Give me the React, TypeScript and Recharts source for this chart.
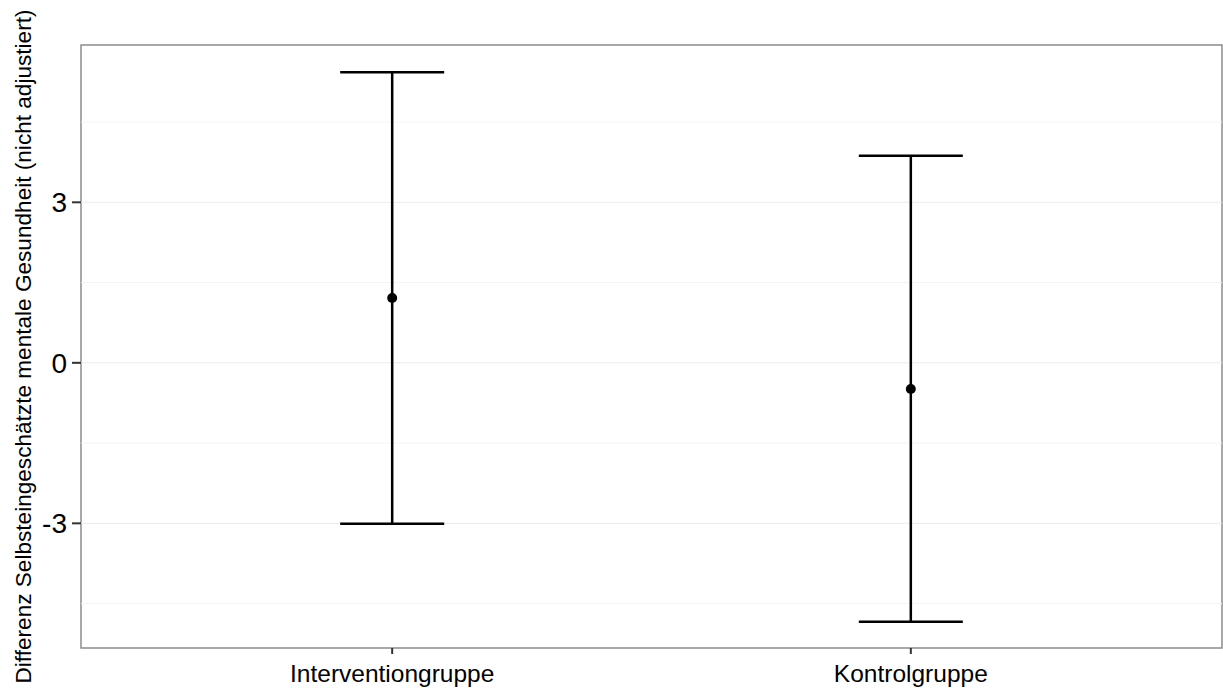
import {
  ComposedChart,
  ErrorBar,
  ReferenceArea,
  ReferenceLine,
  Scatter,
  XAxis,
  YAxis,
} from 'recharts'

const groups = ['Interventiongruppe', 'Kontrolgruppe']
const means = [1.21, -0.49]
const lower = [-3.01, -4.84]
const upper = [5.43, 3.87]

const yTicks = [-3, 0, 3]
const minorY = [-4.5, -1.5, 1.5, 4.5]
const xDomain: [number, number] = [0.4, 2.6]
const yDomain: [number, number] = [-5.33, 5.94]

const yTitle = 'Differenz Selbsteingeschätzte mentale Gesundheit (nicht adjustiert)'

const data = groups.map((name, i) => ({
  x: i + 1,
  y: means[i],
  err: [means[i] - lower[i], upper[i] - means[i]],
}))

const font = 'Arial, "Liberation Sans", sans-serif'

const Dot = (props: any) => (
  <circle cx={props.cx} cy={props.cy} fill="#000" r={5} />
)

export default function App() {
  return (
    <div style={{ position: 'absolute', left: 0, top: 0, background: '#fff' }}>
      <ComposedChart
        data={data}
        height={691}
        margin={{ top: 45, right: 1, bottom: 0, left: 0 }}
        width={1223}
      >
        {minorY.map((v) => (
          <ReferenceLine key={`m${v}`} stroke="#f4f4f4" strokeWidth={1} y={v} />
        ))}
        {yTicks.map((v) => (
          <ReferenceLine key={`M${v}`} stroke="#ebebeb" strokeWidth={1} y={v} />
        ))}
        <XAxis
          allowDataOverflow
          axisLine={false}
          dataKey="x"
          domain={xDomain}
          height={43}
          tick={{ fill: '#000', fontSize: 24.5, fontFamily: font }}
          tickFormatter={(v) => groups[v - 1] ?? ''}
          tickLine={{ stroke: '#333', strokeWidth: 2 }}
          tickMargin={11}
          tickSize={6}
          ticks={[1, 2]}
          type="number"
        />
        <YAxis
          allowDataOverflow
          axisLine={false}
          dataKey="y"
          domain={yDomain}
          label={{
            content: () => (
              <text
                dominantBaseline="central"
                fill="#000"
                fontFamily={font}
                fontSize={22.6}
                textAnchor="middle"
                transform="translate(23,346.5) rotate(-90)"
              >
                {yTitle}
              </text>
            ),
          }}
          tick={{ fill: '#000', fontSize: 28, fontFamily: font }}
          tickLine={{ stroke: '#333', strokeWidth: 2 }}
          tickMargin={5}
          tickSize={9}
          ticks={yTicks}
          type="number"
          width={81}
        />
        <ReferenceArea
          fill="none"
          stroke="#8c8c8c"
          strokeWidth={1.5}
          x1={xDomain[0]}
          x2={xDomain[1]}
          y1={yDomain[0]}
          y2={yDomain[1]}
        />
        <Scatter
          dataKey="y"
          isAnimationActive={false}
          shape={<Dot />}
        >
          <ErrorBar
            dataKey="err"
            direction="y"
            isAnimationActive={false}
            stroke="#000"
            strokeWidth={2.5}
            width={52}
          />
        </Scatter>
      </ComposedChart>
    </div>
  )
}
